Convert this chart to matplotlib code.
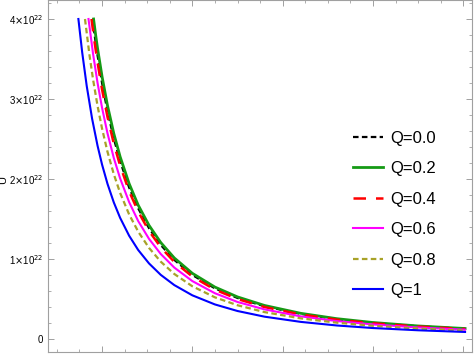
import numpy as np
import matplotlib
matplotlib.use("Agg")
import matplotlib.pyplot as plt
from matplotlib.ticker import MultipleLocator

plt.rcParams['font.family'] = ['Liberation Sans', 'DejaVu Sans']

# U in units of 1e22
x_grid = [0.95, 1.0, 1.06, 1.13, 1.2, 1.3, 1.4, 1.52, 1.65, 1.8, 2.0,
          2.25, 2.5, 2.8, 3.2, 3.6, 4.0, 4.5, 5.02]

q00_x = [0.894, 0.92] + x_grid
q00_u = [4.0, 3.781, 3.546, 3.20, 2.848, 2.506, 2.222, 1.893, 1.633, 1.385,
         1.175, 0.988, 0.800, 0.632, 0.512, 0.408, 0.313, 0.247, 0.200,
         0.158, 0.127]

q02_x = [0.906, 0.93] + x_grid
q02_u = [4.0, 3.792, 3.634, 3.28, 2.919, 2.569, 2.278, 1.941, 1.673, 1.420,
         1.205, 1.012, 0.820, 0.648, 0.525, 0.418, 0.320, 0.253, 0.205,
         0.162, 0.130]

q04_x = [0.883, 0.915] + x_grid
q04_u = [4.0, 3.727, 3.457, 3.12, 2.777, 2.443, 2.167, 1.846, 1.592, 1.350,
         1.146, 0.963, 0.780, 0.616, 0.499, 0.398, 0.305, 0.241, 0.195,
         0.154, 0.124]

q06_x = [0.850, 0.9] + x_grid
q06_u = [4.0, 3.568, 3.202, 2.89, 2.572, 2.263, 2.007, 1.710, 1.474, 1.251,
         1.062, 0.892, 0.723, 0.571, 0.462, 0.369, 0.282, 0.223, 0.181,
         0.143, 0.115]

q08_x = [0.811, 0.86, 0.9] + x_grid
q08_u = [4.0, 3.556, 3.247, 2.914, 2.63, 2.341, 2.060, 1.826, 1.556, 1.342,
         1.138, 0.966, 0.812, 0.658, 0.520, 0.421, 0.335, 0.257, 0.203,
         0.164, 0.130, 0.104]

q10_x = [0.738, 0.78, 0.83, 0.89] + x_grid
q10_u = [4.0, 3.583, 3.164, 2.752, 2.416, 2.18, 1.940, 1.707, 1.514, 1.290,
         1.112, 0.944, 0.801, 0.673, 0.545, 0.431, 0.349, 0.278, 0.213,
         0.168, 0.136, 0.108, 0.087]

labels = ["Q=0.0", "Q=0.2", "Q=0.4", "Q=0.6", "Q=0.8", "Q=1"]
y_ticks = [0, 1, 2, 3, 4]
y_ticklabels = ["0", r"1$\times$10$^{22}$", r"2$\times$10$^{22}$",
                r"3$\times$10$^{22}$", r"4$\times$10$^{22}$"]

fig = plt.figure(figsize=(4.74, 3.58), dpi=100)
ax = fig.add_axes([0.101, 0.017, 0.895, 0.983])

series = [
    (q00_x, q00_u, dict(color="black", ls=(0, (2.5, 1.5)), lw=1.6)),
    (q02_x, q02_u, dict(color="#159a15", ls="-", lw=2.0)),
    (q04_x, q04_u, dict(color="#ff0000", ls=(0, (5, 4)), lw=1.8)),
    (q06_x, q06_u, dict(color="#ff00ff", ls="-", lw=1.5)),
    (q08_x, q08_u, dict(color="#a8a228", ls=(0, (2.5, 1.5)), lw=1.6)),
    (q10_x, q10_u, dict(color="#0000ff", ls="-", lw=1.5)),
]
for (xs, us, st), lab in zip(series, labels):
    ax.plot(xs, us, label=lab, **st)

ax.set_xlim(0.4, 5.098)
ax.set_ylim(-0.1625, 4.2375)

ax.xaxis.set_major_locator(MultipleLocator(1))
ax.xaxis.set_minor_locator(MultipleLocator(0.25))
ax.set_xticklabels([])
ax.set_yticks(y_ticks)
ax.set_yticklabels(y_ticklabels)
ax.yaxis.set_minor_locator(MultipleLocator(0.2))

for sp in ax.spines.values():
    sp.set_color("#a0a0a0")
    sp.set_linewidth(0.8)
ax.tick_params(which="both", direction="in", top=True, right=True,
               color="#a0a0a0", labelsize=7, pad=3.5)
ax.tick_params(which="major", length=4, width=0.7)
ax.tick_params(which="minor", length=2.5, width=0.6)

# axis label sits at the very left edge, as in the source figure
fig.text(0.0075, 0.497, "U", rotation=90, ha="center", va="center", fontsize=8)

leg = ax.legend(loc="upper left", bbox_to_anchor=(0.704, 0.648), frameon=False,
                fontsize=12, handlelength=1.8, handletextpad=0.4,
                labelspacing=0.93, borderaxespad=0)

fig.savefig("out.png", dpi=100)
